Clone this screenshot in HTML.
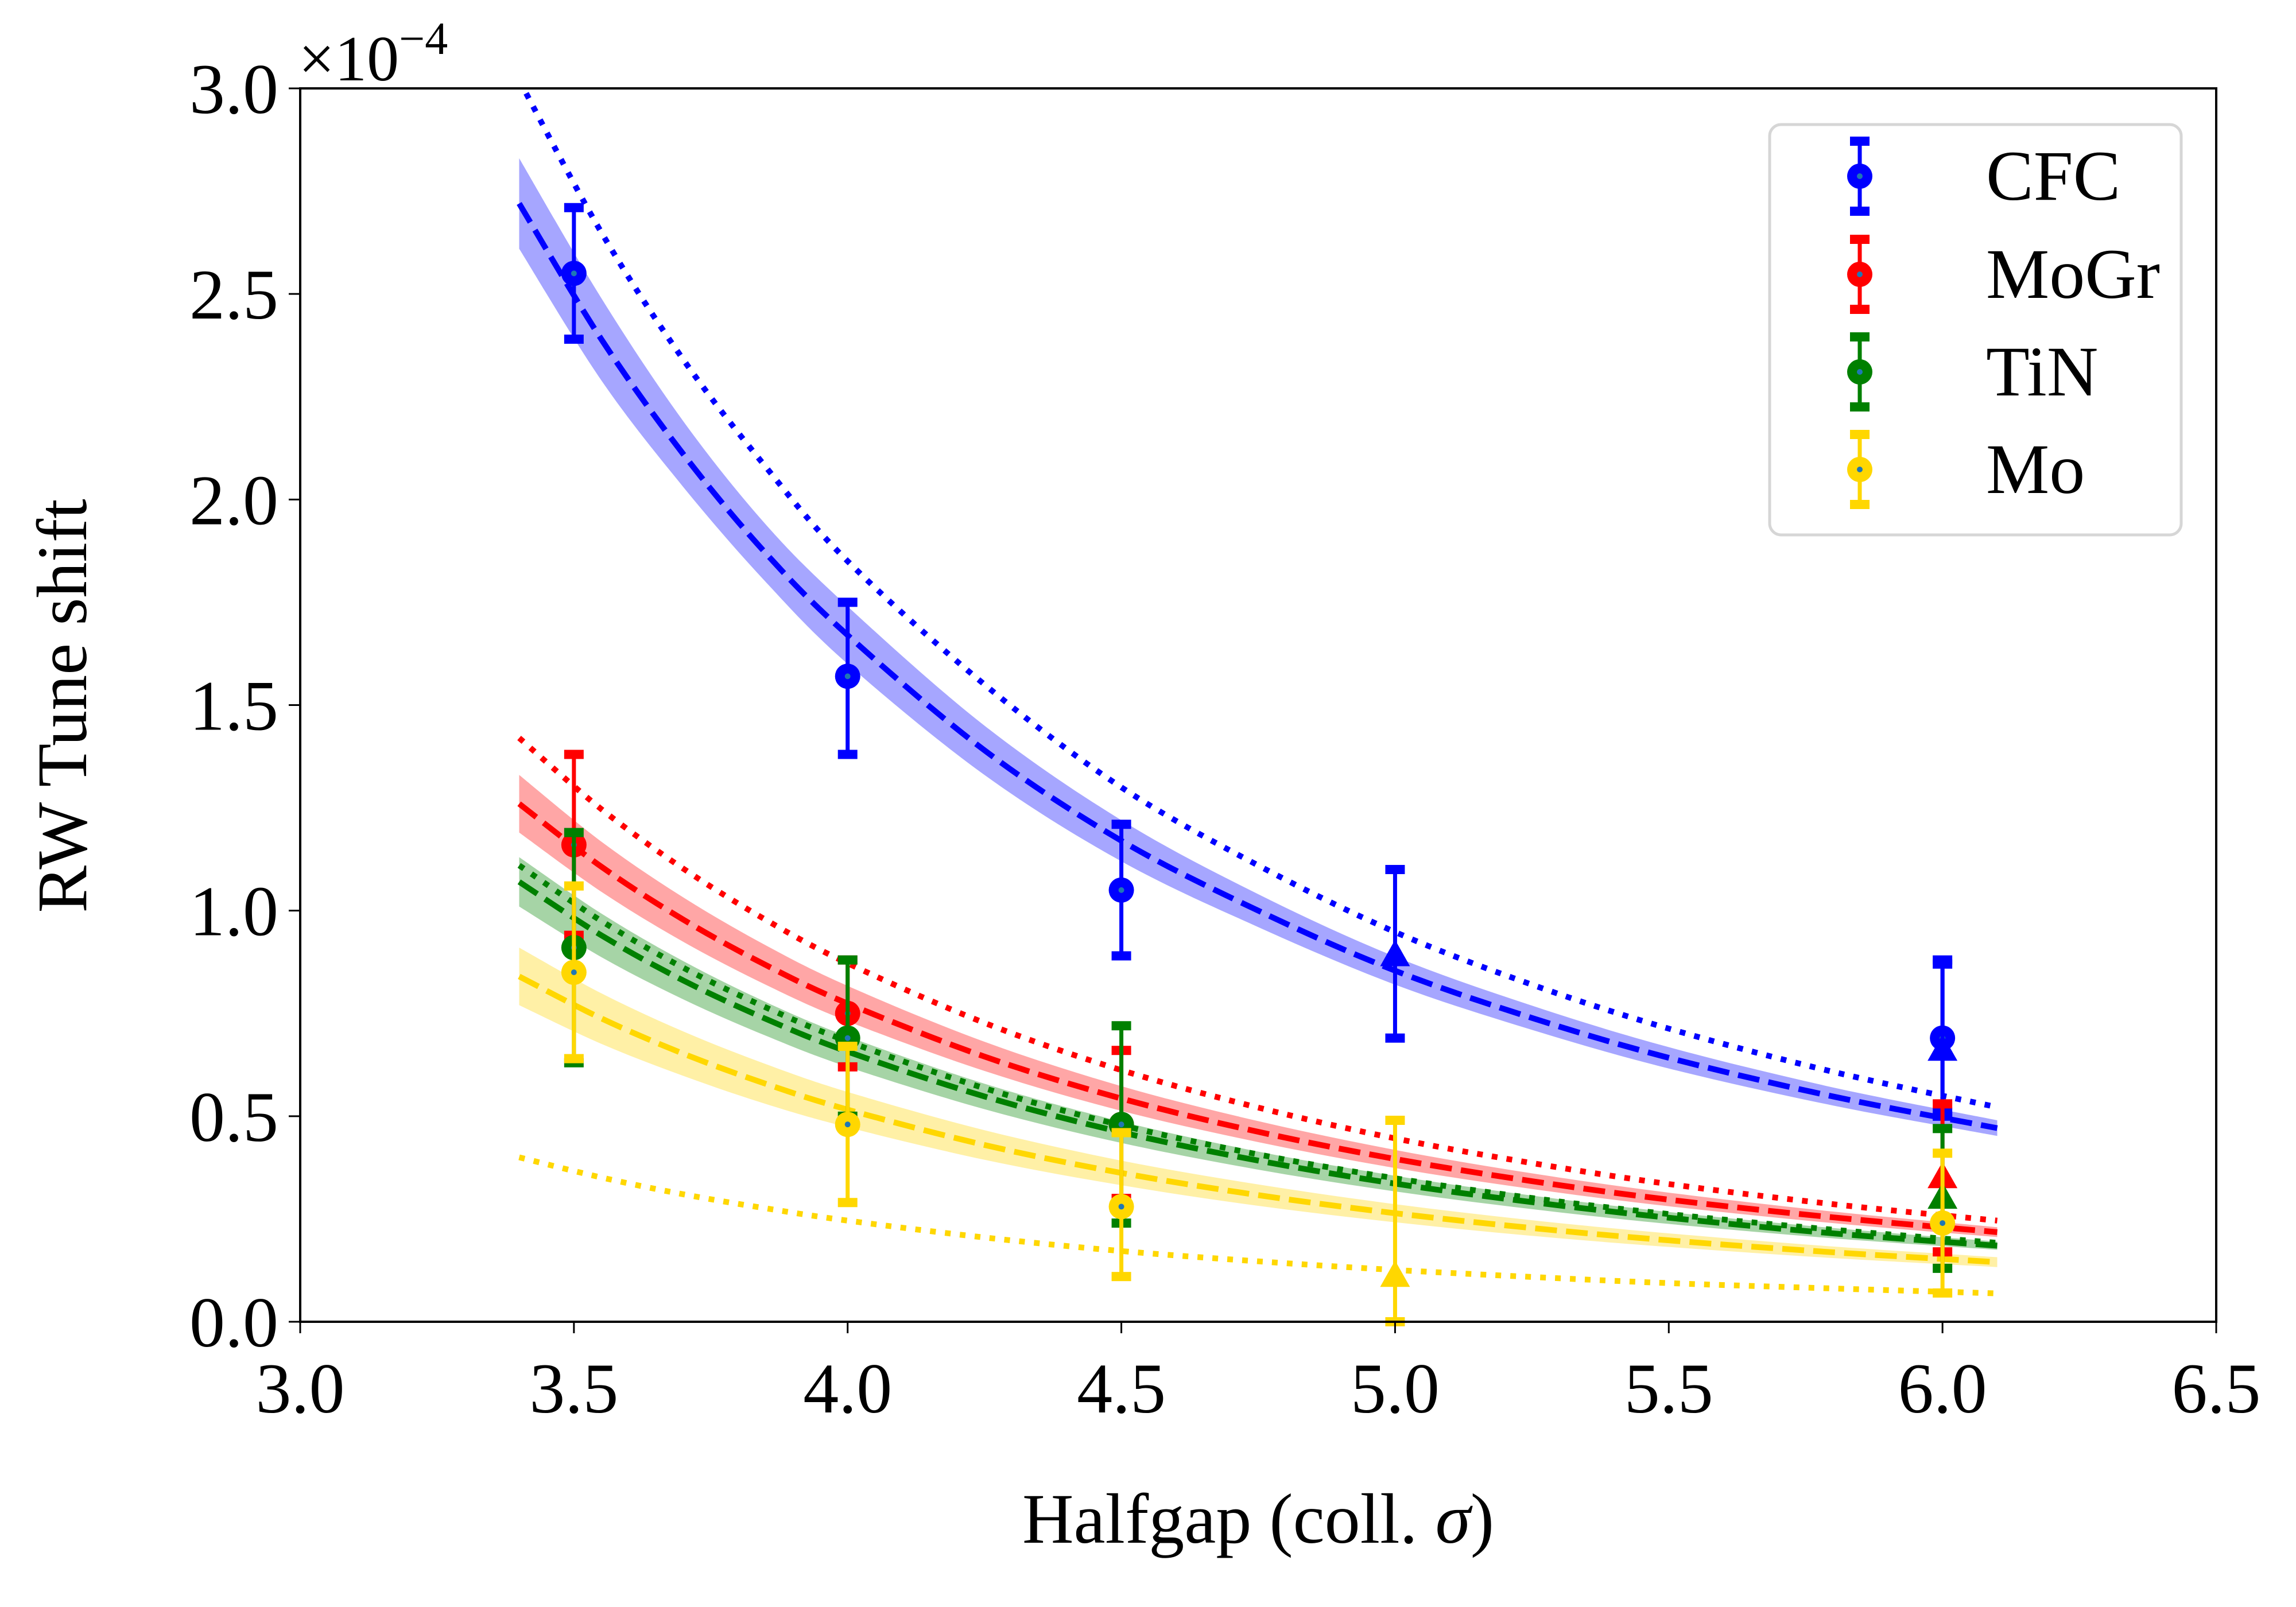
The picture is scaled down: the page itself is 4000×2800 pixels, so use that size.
<!DOCTYPE html>
<html><head><meta charset="utf-8"><style>
html,body{margin:0;padding:0;background:#fff}
svg{display:block}
text{font-family:"Liberation Serif",serif;fill:#000}
</style></head><body>
<svg id="chart" width="4000" height="2800" viewBox="0 0 4000 2800" xmlns="http://www.w3.org/2000/svg">
<rect x="0" y="0" width="4000" height="2800" fill="#fff"/>
<g id="bands"></g>
<g id="curves"></g>
<g id="points"></g>
<g id="axes"></g>
<g id="legend"></g>
</svg>
<script>
// ---- data ----
const xTicks = [3.0, 3.5, 4.0, 4.5, 5.0, 5.5, 6.0, 6.5];
const xTickLabels = ["3.0","3.5","4.0","4.5","5.0","5.5","6.0","6.5"];
const yTicks = [0, 0.5, 1.0, 1.5, 2.0, 2.5, 3.0];
const yTickLabels = ["0.0","0.5","1.0","1.5","2.0","2.5","3.0"];
const materials = ["CFC","MoGr","TiN","Mo"];
const colors = ["#0000ff","#ff0000","#008000","#ffd700"];
const bandColors = ["#a6a6ff","#ffa6a6","#a6d4a6","#fff0a6"];

const curveX = [3.4,3.55,3.7,3.85,4.0,4.25,4.5,4.75,5.0,5.25,5.5,5.8,6.1];
const cfcDashed = [2.72,2.39,2.11,1.87,1.67,1.39,1.17,1.00,0.854,0.739,0.642,0.548,0.471];
const cfcDotted = [3.02,2.65,2.34,2.08,1.85,1.55,1.30,1.11,0.948,0.820,0.713,0.608,0.522];
const cfcLo = [2.61,2.29,2.03,1.80,1.60,1.33,1.12,0.96,0.82,0.71,0.616,0.526,0.452];
const cfcHi = [2.83,2.49,2.19,1.94,1.74,1.45,1.22,1.04,0.888,0.769,0.668,0.570,0.490];
const mogrDashed = [1.26,1.107,0.978,0.868,0.774,0.645,0.543,0.462,0.396,0.342,0.297,0.254,0.218];
const mogrDotted = [1.42,1.247,1.102,0.978,0.872,0.727,0.612,0.521,0.446,0.386,0.335,0.286,0.246];
const mogrLo = [1.19,1.046,0.924,0.820,0.731,0.610,0.513,0.437,0.374,0.323,0.281,0.240,0.206];
const mogrHi = [1.33,1.168,1.032,0.916,0.817,0.681,0.573,0.488,0.418,0.361,0.314,0.268,0.230];
const tinDashed = [1.07,0.940,0.830,0.737,0.657,0.548,0.461,0.392,0.336,0.291,0.253,0.215,0.185];
const tinDotted = [1.11,0.975,0.861,0.765,0.682,0.568,0.478,0.407,0.349,0.301,0.262,0.224,0.192];
const tinLo = [1.01,0.887,0.784,0.696,0.620,0.517,0.435,0.370,0.317,0.274,0.238,0.203,0.175];
const tinHi = [1.13,0.993,0.877,0.778,0.694,0.579,0.487,0.414,0.355,0.307,0.267,0.228,0.195];
const moDashed = [0.84,0.738,0.652,0.579,0.516,0.430,0.362,0.308,0.264,0.228,0.198,0.169,0.145];
const moDotted = [0.40,0.351,0.310,0.276,0.246,0.205,0.172,0.147,0.126,0.109,0.094,0.081,0.069];
const moLo = [0.77,0.676,0.598,0.530,0.473,0.394,0.332,0.282,0.242,0.209,0.182,0.155,0.133];
const moHi = [0.91,0.799,0.706,0.627,0.559,0.466,0.392,0.334,0.286,0.247,0.215,0.183,0.157];

// measurements: x, value, lower, upper, marker
const cfcX = [3.5,4.0,4.5,5.0,6.0,6.0];
const cfcY = [2.55,1.57,1.05,0.89,0.69,0.66];
const cfcErrLo = [2.39,1.38,0.89,0.69,0.50,0.51];
const cfcErrHi = [2.71,1.75,1.21,1.10,0.87,0.88];
const cfcMarker = ["o","o","o","^","o","^"];
const mogrX = [3.5,4.0,4.5,6.0];
const mogrY = [1.16,0.75,0.48,0.35];
const mogrErrLo = [0.94,0.62,0.30,0.17];
const mogrErrHi = [1.38,0.88,0.66,0.53];
const mogrMarker = ["o","o","o","^"];
const tinX = [3.5,4.0,4.5,6.0];
const tinY = [0.91,0.69,0.48,0.30];
const tinErrLo = [0.63,0.50,0.24,0.13];
const tinErrHi = [1.19,0.88,0.72,0.47];
const tinMarker = ["o","o","o","^"];
const moX = [3.5,4.0,4.5,5.0,6.0];
const moY = [0.85,0.48,0.28,0.11,0.24];
const moErrLo = [0.64,0.29,0.11,0.0,0.07];
const moErrHi = [1.06,0.67,0.46,0.49,0.41];
const moMarker = ["o","o","o","^","o"];

// ---- geometry ----
const L=523, R=3861, T=154, B=2303;
const X0=3.0, X1=6.5, Y0=0, Y1=3.0;
function sx(v){return L+(v-X0)/(X1-X0)*(R-L);}
function sy(v){return B-(v-Y0)/(Y1-Y0)*(B-T);}
const NS="http://www.w3.org/2000/svg";
function mk(tag,attrs,parent){const e=document.createElementNS(NS,tag);for(const k in attrs)e.setAttribute(k,attrs[k]);parent.appendChild(e);return e;}

function smoothPath(xs,ys){
  const p=xs.map((x,i)=>[sx(x),sy(ys[i])]);
  let d="M"+p[0][0]+","+p[0][1];
  for(let i=0;i<p.length-1;i++){
    const p0=p[Math.max(0,i-1)],p1=p[i],p2=p[i+1],p3=p[Math.min(p.length-1,i+2)];
    const c1=[p1[0]+(p2[0]-p0[0])/6,p1[1]+(p2[1]-p0[1])/6];
    const c2=[p2[0]-(p3[0]-p1[0])/6,p2[1]-(p3[1]-p1[1])/6];
    d+=" C"+c1[0]+","+c1[1]+" "+c2[0]+","+c2[1]+" "+p2[0]+","+p2[1];
  }
  return d;
}

const svg=document.getElementById('chart');
const gB=document.getElementById('bands'), gC=document.getElementById('curves'), gP=document.getElementById('points'), gA=document.getElementById('axes'), gL=document.getElementById('legend');

const defs=mk('defs',{},svg);
const cp=mk('clipPath',{id:'plotclip'},defs);
mk('rect',{x:L,y:T,width:R-L,height:B-T},cp);
gB.setAttribute('clip-path','url(#plotclip)');
gC.setAttribute('clip-path','url(#plotclip)');

const bandsLo=[cfcLo,mogrLo,tinLo,moLo], bandsHi=[cfcHi,mogrHi,tinHi,moHi];
const dashedSets=[cfcDashed,mogrDashed,tinDashed,moDashed];
const dottedSets=[cfcDotted,mogrDotted,tinDotted,moDotted];

for(let m=0;m<4;m++){
  const up=smoothPath(curveX,bandsHi[m]);
  const revX=curveX.slice().reverse(), revLo=bandsLo[m].slice().reverse();
  const lo=smoothPath(revX,revLo).replace(/^M/,"L");
  const band=mk('path',{d:up+" "+lo+" Z",fill:bandColors[m],stroke:'none'},gB);
  
  
}
for(let m=0;m<4;m++){
  const dotted=mk('path',{d:smoothPath(curveX,dottedSets[m]),fill:'none',stroke:colors[m],'stroke-width':10,'stroke-dasharray':'10 16'},gC);
  
  
  const dashed=mk('path',{d:smoothPath(curveX,dashedSets[m]),fill:'none',stroke:colors[m],'stroke-width':10,'stroke-dasharray':'38 16'},gC);
  
  
}

const pX=[cfcX,mogrX,tinX,moX], pY=[cfcY,mogrY,tinY,moY], pLo=[cfcErrLo,mogrErrLo,tinErrLo,moErrLo], pHi=[cfcErrHi,mogrErrHi,tinErrHi,moErrHi], pM=[cfcMarker,mogrMarker,tinMarker,moMarker];
for(let m=0;m<4;m++){
  for(let i=0;i<pX[m].length;i++){
    const g=mk('g',{},gP);
    
    
    const x=sx(pX[m][i]);
    mk('line',{x1:x,x2:x,y1:sy(pLo[m][i]),y2:sy(pHi[m][i]),stroke:colors[m],'stroke-width':7},g);
    mk('rect',{x:x-17,y:sy(pLo[m][i])-8,width:34,height:16,fill:colors[m]},g);
    mk('rect',{x:x-17,y:sy(pHi[m][i])-8,width:34,height:16,fill:colors[m]},g);
    const y=sy(pY[m][i]);
    if(pM[m][i]==="o"){
      mk('circle',{cx:x,cy:y,r:22,fill:colors[m]},g);
      mk('circle',{cx:x,cy:y,r:5,fill:'#1f77b4'},g);
    } else {
      mk('polygon',{points:(x)+","+(y-28)+" "+(x+26)+","+(y+18)+" "+(x-26)+","+(y+18),fill:colors[m]},g);
    }
  }
}

mk('rect',{x:L,y:T,width:R-L,height:B-T,fill:'none',stroke:'#000','stroke-width':4},gA);
for(let i=0;i<xTicks.length;i++){
  const x=sx(xTicks[i]);
  mk('line',{x1:x,x2:x,y1:B,y2:B+20,stroke:'#000','stroke-width':3},gA);
  const t=mk('text',{x:x,y:2461,'font-size':124,'text-anchor':'middle'},gA);
  t.textContent=xTickLabels[i];
  
  
}
for(let i=0;i<yTicks.length;i++){
  const y=sy(yTicks[i]);
  mk('line',{x1:L,x2:L-20,y1:y,y2:y,stroke:'#000','stroke-width':3},gA);
  const t=mk('text',{x:L-38,y:y+43,'font-size':124,'text-anchor':'end'},gA);
  t.textContent=yTickLabels[i];
  
  
}
</script>
<svg style="position:absolute;left:0;top:0" width="4000" height="2800" viewBox="0 0 4000 2800">
<text x="520" y="140" font-size="112">×10<tspan font-size="80" dy="-46">−4</tspan></text>
<text x="2192" y="2688" font-size="124" text-anchor="middle">Halfgap (coll. <tspan font-style="italic">σ</tspan>)</text>
<text x="0" y="0" font-size="124" text-anchor="middle" transform="translate(150,1230) rotate(-90)">RW Tune shift</text>
<g>
<rect x="3083" y="217" width="717" height="715" rx="20" fill="#fff" fill-opacity="0.85" stroke="#d6d6d6" stroke-width="5"/>
</g>
<g>
<line x1="3240" x2="3240" y1="246" y2="368" stroke="#0000ff" stroke-width="7"/><rect x="3223" y="238" width="34" height="16" fill="#0000ff"/><rect x="3223" y="360" width="34" height="16" fill="#0000ff"/><circle cx="3240" cy="307" r="22" fill="#0000ff"/><circle cx="3240" cy="307" r="5" fill="#1f77b4"/>
<text x="3460" y="348" font-size="124">CFC</text></g>
<g>
<line x1="3240" x2="3240" y1="417" y2="539" stroke="#ff0000" stroke-width="7"/><rect x="3223" y="409" width="34" height="16" fill="#ff0000"/><rect x="3223" y="531" width="34" height="16" fill="#ff0000"/><circle cx="3240" cy="478" r="22" fill="#ff0000"/><circle cx="3240" cy="478" r="5" fill="#1f77b4"/>
<text x="3460" y="519" font-size="124">MoGr</text></g>
<g>
<line x1="3240" x2="3240" y1="587" y2="709" stroke="#008000" stroke-width="7"/><rect x="3223" y="579" width="34" height="16" fill="#008000"/><rect x="3223" y="701" width="34" height="16" fill="#008000"/><circle cx="3240" cy="648" r="22" fill="#008000"/><circle cx="3240" cy="648" r="5" fill="#1f77b4"/>
<text x="3460" y="689" font-size="124">TiN</text></g>
<g>
<line x1="3240" x2="3240" y1="757" y2="879" stroke="#ffd700" stroke-width="7"/><rect x="3223" y="749" width="34" height="16" fill="#ffd700"/><rect x="3223" y="871" width="34" height="16" fill="#ffd700"/><circle cx="3240" cy="818" r="22" fill="#ffd700"/><circle cx="3240" cy="818" r="5" fill="#1f77b4"/>
<text x="3460" y="859" font-size="124">Mo</text></g>
</svg>
</body></html>
